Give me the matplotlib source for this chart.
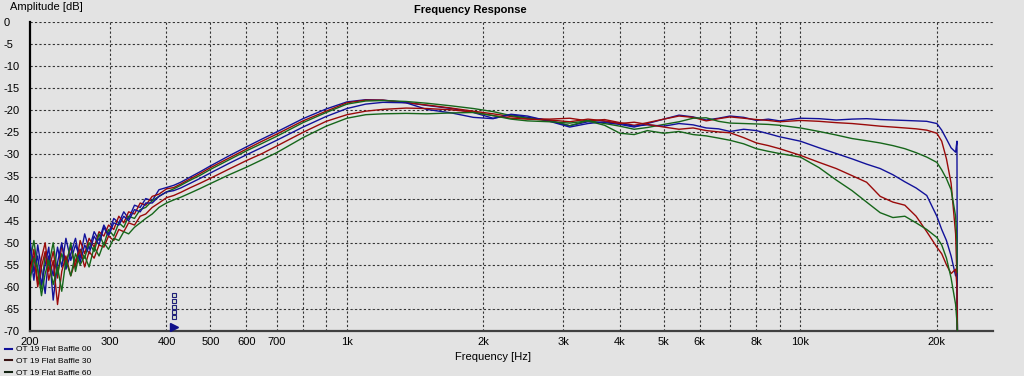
import numpy as np
import matplotlib
matplotlib.use("Agg")
import matplotlib.pyplot as plt
from matplotlib.lines import Line2D

plt.rcParams['font.family'] = ['Liberation Sans', 'DejaVu Sans']

# frequency grid shared by all curves (Hz)
freq = [200, 204, 208, 212, 216, 220, 225, 230, 235, 240,
        246, 252, 258, 264, 270, 277, 284, 291, 298, 306,
        314, 322, 330, 340, 350, 360, 372, 385, 400, 415,
        430, 450, 475, 500, 550, 600, 650, 700, 800, 900,
        1000, 1100, 1200, 1350, 1500, 1700, 1900, 2100, 2300, 2500,
        2800, 3100, 3400, 3700, 4000, 4300, 4600, 5000, 5400, 5800,
        6200, 6600, 7000, 7500, 8000, 8500, 9000, 10000, 11000, 12000,
        13000, 14000, 15000, 16000, 17000, 18000, 19000, 20000]
freq_tail = [20500, 21000, 21500, 22000, 22150, 22200]

blue_a = [-52.0, -58.5, -50.5, -56.0, -61.5, -53.0, -57.5, -51.0, -55.5, -49.0,
          -54.0, -50.5, -53.5, -48.0, -51.5, -47.5, -49.5, -46.0, -48.0, -44.5,
          -45.5, -43.0, -44.5, -41.5, -42.0, -40.0, -40.5, -38.0, -37.5, -37.0,
          -36.3, -35.2, -33.9, -32.6, -30.3, -28.3, -26.5, -24.9, -21.9, -19.7,
          -18.1, -17.6, -17.7, -18.2, -18.9, -19.6, -20.5, -21.8, -21.0, -21.6,
          -22.3, -23.5, -22.6, -22.8, -23.2, -23.8, -23.0, -22.0, -21.1, -21.5,
          -22.2, -21.8, -21.3, -21.6, -22.3, -22.0, -22.4, -21.8, -21.9, -22.2,
          -22.0, -21.9, -22.1, -22.2, -22.3, -22.4, -22.5, -23.0]
blue_a_tail = [-24.5, -26.5, -28.5, -29.5, -27.0, -70.0]

red_a = [-57.0, -51.5, -59.0, -53.5, -50.0, -56.5, -52.0, -58.0, -50.5, -54.5,
         -51.0, -55.5, -49.5, -52.5, -49.0, -51.0, -47.5, -48.5, -46.0, -47.0,
         -44.0, -45.5, -43.0, -43.5, -41.0, -41.5, -39.5, -39.0, -37.8, -37.5,
         -36.7, -35.6, -34.3, -33.0, -30.8, -28.8, -27.0, -25.4, -22.4, -20.2,
         -18.3, -17.7, -17.7, -18.3, -18.8, -19.5, -20.2, -20.8, -21.4, -21.9,
         -22.0, -21.8, -22.4, -22.1, -22.8, -23.4, -22.8, -22.0, -21.3, -21.6,
         -22.4, -21.9, -21.5, -21.8, -22.1, -22.3, -22.6, -22.3, -22.5, -22.8,
         -23.0, -23.3, -23.6, -23.8, -24.0, -24.2, -24.5, -25.2]
red_a_tail = [-27.0, -31.0, -36.5, -48.0, -58.0, -70.0]

green_a = [-54.0, -49.5, -56.0, -60.5, -52.5, -55.0, -50.0, -57.0, -52.5, -55.5,
           -50.0, -56.5, -51.5, -53.5, -50.0, -52.0, -48.0, -50.5, -47.0, -48.5,
           -45.5, -46.5, -44.0, -44.5, -42.5, -42.0, -40.5, -39.5, -38.5, -37.8,
           -37.0, -35.9, -34.7, -33.4, -31.2, -29.2, -27.5, -25.9, -22.8, -20.5,
           -18.6, -17.9, -17.8, -18.0, -18.4, -19.0, -19.6, -20.3, -21.2, -21.8,
           -22.4, -23.5, -22.3, -23.0, -23.6, -24.3, -23.9, -23.2, -22.6, -21.8,
           -21.7, -22.5, -22.9, -23.0, -23.1, -23.2, -23.4, -24.0, -24.8, -25.6,
           -26.4, -26.9, -27.4, -28.0, -28.7, -29.6, -30.6, -31.8]
green_a_tail = [-33.5, -35.5, -38.0, -44.0, -50.0, -70.0]

blue_b = [-49.5, -56.5, -53.0, -59.5, -55.0, -51.0, -63.0, -54.5, -50.0, -56.0,
          -52.5, -49.0, -54.5, -50.5, -52.5, -48.5, -50.5, -46.5, -48.5, -45.5,
          -46.0, -44.0, -45.0, -42.5, -43.0, -41.0, -41.0, -39.5, -38.5, -38.2,
          -37.6, -36.6, -35.4, -34.2, -32.0, -30.1, -28.4, -26.8, -23.8, -21.4,
          -19.6, -18.6, -18.2, -18.3, -19.8, -20.6, -21.6, -21.9, -20.9, -21.3,
          -22.5, -23.8, -23.0, -22.6, -23.0, -23.6, -23.3, -23.6, -23.0, -23.3,
          -24.0, -24.2, -24.8, -24.3, -24.6, -25.3, -26.0, -27.0, -28.5, -29.8,
          -31.0, -32.2, -33.2, -34.6, -36.2, -37.6, -39.3, -44.0]
blue_b_tail = [-47.0, -49.5, -53.0, -57.5, -57.0, -70.0]

red_b = [-56.0, -53.0, -60.0, -55.5, -52.0, -58.5, -54.0, -64.0, -56.5, -53.0,
         -57.5, -54.0, -51.5, -55.5, -52.0, -53.5, -50.5, -51.0, -48.5, -49.5,
         -47.0, -47.5, -45.5, -46.0, -44.0, -43.5, -42.0, -41.0, -39.8, -39.3,
         -38.6, -37.6, -36.5, -35.4, -33.3, -31.4, -29.8, -28.1, -25.0, -22.5,
         -21.0, -20.2, -19.8, -19.5, -19.6, -19.9, -20.4, -21.2, -21.8, -22.0,
         -22.2, -22.6, -22.0, -22.4, -23.0, -22.7, -23.2, -23.8, -24.3, -24.0,
         -24.6, -24.9, -25.1, -26.2, -27.4, -28.0, -28.7, -30.2, -31.8, -33.2,
         -34.8, -36.3, -39.5, -40.8, -41.5, -44.0, -47.5, -51.0]
red_b_tail = [-52.5, -55.0, -57.0, -56.0, -60.0, -70.0]

green_b = [-58.5, -53.5, -56.0, -62.0, -57.0, -54.0, -59.5, -55.5, -61.0, -54.0,
           -57.5, -52.5, -55.0, -53.0, -55.5, -51.0, -53.0, -50.0, -51.5, -49.0,
           -49.5, -47.5, -48.0, -46.5, -45.5, -44.5, -43.5, -42.0, -41.0, -40.3,
           -39.7, -38.8, -37.7, -36.6, -34.6, -32.9, -31.2, -29.6, -26.2, -23.6,
           -21.8, -21.0, -20.8, -20.7, -20.8, -20.6, -20.5, -21.2, -22.0, -22.4,
           -22.6, -22.9, -22.4, -23.4, -25.2, -25.5, -24.6, -25.2, -24.8, -25.5,
           -25.8, -26.3, -26.8, -27.6, -28.7, -29.3, -29.8, -30.6, -33.0, -35.8,
           -38.2, -40.8, -43.2, -44.3, -44.0, -45.5, -47.0, -48.8]
green_b_tail = [-50.5, -53.5, -58.0, -64.0, -68.0, -70.0]

series = [(blue_a, blue_a_tail, '#12129a'), (red_a, red_a_tail, '#9a0a0a'),
          (green_a, green_a_tail, '#16661a'), (blue_b, blue_b_tail, '#12129a'),
          (red_b, red_b_tail, '#9a0a0a'), (green_b, green_b_tail, '#16661a')]

legend_labels = ['OT 19 Flat Baffle 00', 'OT 19 Flat Baffle 30', 'OT 19 Flat Baffle 60']
legend_colors = ['#12129a', '#3a1414', '#142414']

grid_freqs = [200, 300, 400, 500, 600, 700, 800, 900, 1000, 2000, 3000, 4000,
              5000, 6000, 7000, 8000, 9000, 10000, 20000]
xtick_freqs = [200, 300, 400, 500, 600, 700, 1000, 2000, 3000, 4000, 5000, 6000, 8000, 10000, 20000]
xtick_labels = ['200', '300', '400', '500', '600', '700', '1k', '2k', '3k', '4k', '5k', '6k', '8k', '10k', '20k']
ytick_vals = list(range(0, -75, -5))

# cursor marker near 415 Hz
cursor_f = 415
cursor_stack = [-61.8, -63.2, -64.5, -65.7, -66.9]

bg = '#e3e3e3'
fig = plt.figure(figsize=(10.24, 3.76), dpi=100, facecolor=bg)
ax = fig.add_axes([30 / 1024, 1 - 331 / 376, (993 - 30) / 1024, (331 - 22) / 376])
ax.set_facecolor(bg)
ax.set_xscale('log')
ax.set_xlim(200, 26600)
ax.set_ylim(-70, 0)

for f in grid_freqs[1:]:
    ax.axvline(f, color='#333333', lw=0.8, dashes=(2, 2), zorder=1)
for v in ytick_vals[:-1]:
    ax.axhline(v, color='#333333', lw=0.8, dashes=(2, 2), zorder=1)

for vals, tail, col in series:
    ax.plot(freq + freq_tail, vals + tail, color=col, lw=1.0, zorder=3)

ax.plot([cursor_f] * len(cursor_stack), cursor_stack, ls='none', marker='s', ms=3.5,
        mfc='#d8e0d0', mec='#20207a', mew=0.8, zorder=4)
ax.plot([cursor_f], [-69.2], ls='none', marker='>', ms=6, color='#10108a', zorder=4)

ax.set_xticks(xtick_freqs)
ax.set_xticklabels(xtick_labels)
ax.xaxis.set_minor_locator(plt.NullLocator())
ax.set_yticks(ytick_vals)
ax.set_yticklabels([str(v) for v in ytick_vals], ha='left')
ax.tick_params(axis='x', length=0, pad=4.5, labelsize=8)
ax.tick_params(axis='y', length=0, pad=19, labelsize=8)

for s in ['top', 'right']:
    ax.spines[s].set_visible(False)
ax.spines['left'].set_color('black')
ax.spines['left'].set_linewidth(1.6)
ax.spines['bottom'].set_color('#404040')
ax.spines['bottom'].set_linewidth(1.6)

fig.text(10 / 1024, 1 - 7 / 376, 'Amplitude [dB]', fontsize=8, va='center', ha='left')
fig.text(470 / 1024, 1 - 10 / 376, 'Frequency Response', fontsize=8, fontweight='bold',
         va='center', ha='center')
fig.text(493 / 1024, 1 - 357 / 376, 'Frequency [Hz]', fontsize=8, va='center', ha='center')

handles = [Line2D([0], [0], color=c, lw=1.5) for c in legend_colors]
fig.legend(handles, legend_labels, loc='lower left', bbox_to_anchor=(0.003, -0.006),
           frameon=False, fontsize=6, handlelength=0.9, handletextpad=0.4,
           labelspacing=0.45, borderpad=0.1, borderaxespad=0.1)

fig.savefig('out.png', dpi=100, facecolor=bg)
